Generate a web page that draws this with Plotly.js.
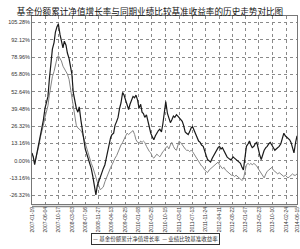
<!DOCTYPE html>
<html>
<head>
<meta charset="utf-8">
<script src="https://cdn.plot.ly/plotly-3.0.1.min.js"></script>
<style>html,body{margin:0;padding:0;background:#fff;}#chart{width:300px;height:249px;}</style>
</head>
<body>
<div id="chart"></div>
<script>
var titleText = "基金份额累计净值增长率与同期业绩比较基准收益率的历史走势对比图";
var seriesNames = ["基金份额累计净值增长率", "业绩比较基准收益率"];

var dates = [
"2007-01-19","2007-02-01","2007-02-15","2007-03-01","2007-03-15","2007-04-01","2007-04-15","2007-05-01","2007-05-15","2007-06-01","2007-06-15","2007-07-01","2007-07-15","2007-08-01","2007-08-15","2007-09-01","2007-09-15","2007-10-01","2007-10-15","2007-11-01","2007-11-15","2007-12-01","2007-12-15",
"2008-01-01","2008-01-15","2008-02-01","2008-02-15","2008-03-01","2008-03-15","2008-04-01","2008-04-15","2008-05-01","2008-05-15","2008-06-01","2008-06-15","2008-07-01","2008-07-15","2008-08-01","2008-08-15","2008-09-01","2008-09-15","2008-10-01","2008-10-15","2008-11-01","2008-11-15","2008-12-01","2008-12-15",
"2009-01-01","2009-01-15","2009-02-01","2009-02-15","2009-03-01","2009-03-15","2009-04-01","2009-04-15","2009-05-01","2009-05-15","2009-06-01","2009-06-15","2009-07-01","2009-07-15","2009-08-01","2009-08-15","2009-09-01","2009-09-15","2009-10-01","2009-10-15","2009-11-01","2009-11-15","2009-12-01","2009-12-15",
"2010-01-01","2010-01-15","2010-02-01","2010-02-15","2010-03-01","2010-03-15","2010-04-01","2010-04-15","2010-05-01","2010-05-15","2010-06-01","2010-06-15","2010-07-01","2010-07-15","2010-08-01","2010-08-15","2010-09-01","2010-09-15","2010-10-01","2010-10-15","2010-11-01","2010-11-15","2010-12-01","2010-12-15",
"2011-01-01","2011-01-15","2011-02-01","2011-02-15","2011-03-01","2011-03-15","2011-04-01","2011-04-15","2011-05-01","2011-05-15","2011-06-01","2011-06-15","2011-07-01","2011-07-15","2011-08-01","2011-08-15","2011-09-01","2011-09-15","2011-10-01","2011-10-15","2011-11-01","2011-11-15","2011-12-01","2011-12-15",
"2012-01-01","2012-01-15","2012-02-01","2012-02-15","2012-03-01","2012-03-15","2012-04-01","2012-04-15","2012-05-01","2012-05-15","2012-06-01","2012-06-15","2012-07-01","2012-07-15","2012-08-01","2012-08-15","2012-09-01","2012-09-15","2012-10-01","2012-10-15","2012-11-01","2012-11-15","2012-12-01","2012-12-15",
"2013-01-01","2013-01-15","2013-02-01","2013-02-15","2013-03-01","2013-03-15","2013-04-01","2013-04-15","2013-05-01","2013-05-15","2013-06-01","2013-06-15","2013-07-01","2013-07-15","2013-08-01","2013-08-15","2013-09-01","2013-09-15","2013-10-01","2013-10-15","2013-11-01","2013-11-15","2013-12-01","2013-12-15",
"2014-01-01","2014-01-15","2014-02-01","2014-02-15","2014-03-01","2014-03-15","2014-04-01","2014-04-15","2014-05-01","2014-05-15","2014-06-01","2014-06-15"
];

var fundGrowth = [
6,3,-3,2,9,14,20,26,31,40,44,49,62,76,85,90,98,102,104,96,90,86,91,
88,82,78,72,66,52,44,40,37,41,31,24,16,9,5,2,-2,-6,-12,-18,-26,-19,-16,-12,
-9,-6,-3,2,6,12,18,20,21,27,30,33,40,44,52,50,46,42,39,43,47,49,48,50,
46,40,43,37,36,33,35,30,25,21,18,16,19,21,23,24,22,28,38,45,36,33,29,31,
34,33,35,34,33,32,30,27,22,21,20,22,25,26,23,21,18,15,14,12,11,7,4,1,
0,-1,2,4,5,8,10,11,9,10,7,5,3,2,1,1,3,2,1,0,-1,-2,-5,-7,
3,11,13,15,12,10,11,13,14,9,4,1,5,8,10,11,13,14,12,10,8,9,10,11,
13,17,21,19,18,17,16,14,10,6,14,19
];

var benchmark = [
5,3,-2,2,8,12,18,22,27,33,38,42,50,58,64,68,74,78,80,78,76,72,70,
68,66,62,55,48,40,33,27,25,24,23,21,17,13,8,4,1,-2,-5,-9,-12,-16,-19,-22,
-21,-20,-16,-13,-10,-8,-5,-3,0,2,4,7,9,12,14,17,19,21,20,21,22,23,20,16,
14,13,15,14,15,14,11,9,7,6,3,2,4,5,4,3,5,7,8,10,11,9,12,14,11,9,
8,12,15,14,12,11,9,8,8,7,8,7,5,3,1,0,-2,-4,-5,-7,-8,-9,-7,-6,
-5,-4,-3,-2,-1,-3,-5,-6,-5,-7,-8,-9,-10,-11,-11,-12,-11,-12,-13,-14,-15,-14,-6,-3,
-2,-3,-2,-3,-2,-3,-4,-6,-8,-10,-12,-13,-10,-8,-7,-6,-5,-7,-8,-9,-10,-9,-10,-11,
-12,-11,-12,-13,-12,-11,-10,-11,-11,-10
];

var xTickVals = ["2007-01-19","2007-06-04","2007-10-17","2008-03-03","2008-07-16","2008-11-27","2009-04-13","2009-08-25","2010-01-08","2010-05-25","2010-10-15","2011-03-01","2011-07-13","2011-11-24","2012-04-11","2012-08-22","2013-01-07","2013-05-23","2013-10-10","2014-02-24","2014-06-15"];
var xTickText = xTickVals.slice();

var yTickVals = [-26.32,-13.16,0,13.16,26.32,39.48,52.64,65.80,78.96,92.12,105.28];
var yTickText = ["-26.32%","-13.16%","0.00%","13.16%","26.32%","39.48%","52.64%","65.80%","78.96%","92.12%","105.28%"];

var fundColor = "#1a1a1a";
var benchColor = "#858585";

var traces = [
  {x: dates, y: benchmark, name: seriesNames[1], type: "scatter", mode: "lines",
   line: {color: benchColor, width: 1}, showlegend: false, hoverinfo: "skip"},
  {x: dates, y: fundGrowth, name: seriesNames[0], type: "scatter", mode: "lines",
   line: {color: fundColor, width: 1.2}, showlegend: false, hoverinfo: "skip"}
];

var layout = {
  width: 300, height: 249,
  margin: {l: 32, r: 3, t: 16, b: 45, pad: 0},
  paper_bgcolor: "#fff", plot_bgcolor: "#fff",
  font: {family: "Liberation Sans, Arial, sans-serif", size: 5.5, color: "#333"},
  title: {text: titleText, x: 0.5, xanchor: "center", y: 0.952, yanchor: "middle", yref: "container",
          font: {family: "Noto Sans CJK SC", size: 8.6, color: "#111"}},
  xaxis: {type: "date", range: [dates[0], dates[dates.length - 1]],
          tickmode: "array", tickvals: xTickVals, ticktext: xTickText,
          tickangle: -90, tickfont: {size: 5, color: "#333"},
          showgrid: true, gridcolor: "#8a8a8a", gridwidth: 1, griddash: "dot",
          showline: true, linecolor: "#777", linewidth: 1, mirror: true,
          ticks: "", zeroline: false, fixedrange: true},
  yaxis: {range: [-32.9, 110.2], tickmode: "array", tickvals: yTickVals, ticktext: yTickText,
          tickfont: {size: 5.5, color: "#333"},
          showgrid: true, gridcolor: "#8a8a8a", gridwidth: 1, griddash: "dot",
          showline: true, linecolor: "#777", linewidth: 1, mirror: true,
          ticks: "", zeroline: false, fixedrange: true},
  shapes: [
    {type: "line", xref: "paper", yref: "paper", x0: 0, x1: 1, y0: -0.013, y1: -0.013,
     line: {color: "#888", width: 1.5}}
  ],
  annotations: [
    {xref: "paper", yref: "paper", x: 0.465, y: -0.185, xanchor: "center", yanchor: "middle",
     showarrow: false,
     text: "<span style='color:" + fundColor + "'>—</span> " + seriesNames[0] + "  <span style='color:" + fundColor + "'>—</span> " + seriesNames[1],
     font: {family: "Noto Sans CJK SC", size: 5.5, color: "#333"},
     bordercolor: "#333", borderwidth: 1, borderpad: 1, bgcolor: "#fff"}
  ]
};

Plotly.newPlot("chart", traces, layout, {displayModeBar: false, staticPlot: true});
</script>
</body>
</html>
